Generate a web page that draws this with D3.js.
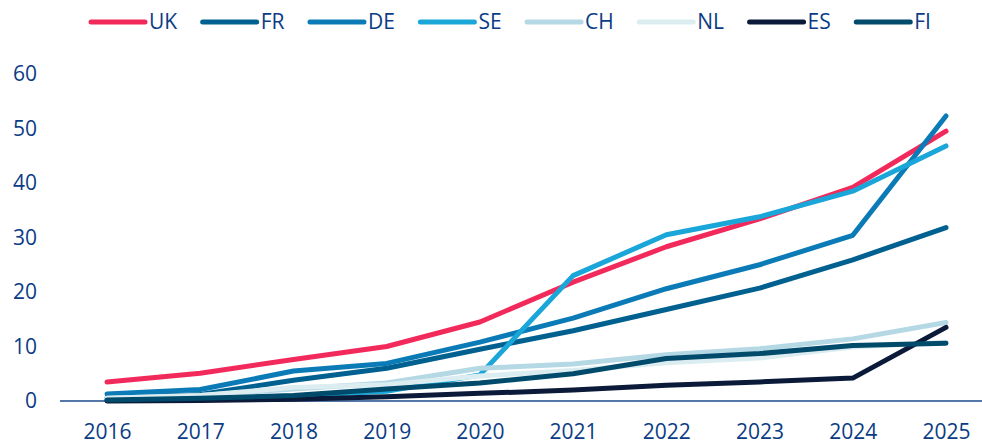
<!DOCTYPE html>
<html>
<head>
<meta charset="utf-8">
<script src="https://cdn.jsdelivr.net/npm/d3@7"></script>
<style>
  body { margin: 0; background: #fff; }
  text { font-family: "Open Sans", "Noto Sans", sans-serif; fill: #0b3c85; }
</style>
</head>
<body>
<div id="chart"></div>
<script>
const years = [2016, 2017, 2018, 2019, 2020, 2021, 2022, 2023, 2024, 2025];
const countries = ['UK', 'FR', 'DE', 'SE', 'CH', 'NL', 'ES', 'FI'];
const colors = ['#f22a5c', '#00608f', '#0a7bb6', '#1aa6d8', '#b5d8e5', '#dcedf1', '#0b1a38', '#004b6c'];
const yTicks = [0, 10, 20, 30, 40, 50, 60];

const uk = [3.5, 5.1, 7.6, 10.0, 14.5, 21.8, 28.3, 33.4, 39.2, 49.5];
const fr = [0.6, 1.2, 3.8, 6.0, 9.5, 12.9, 16.8, 20.7, 25.9, 31.8];
const de = [1.3, 2.1, 5.5, 6.9, 10.8, 15.2, 20.6, 25.0, 30.4, 52.3];
const se = [0.3, 0.5, 0.9, 1.8, 4.8, 23.0, 30.5, 33.8, 38.5, 46.8];
const ch = [0.5, 1.0, 2.2, 3.3, 6.0, 6.8, 8.5, 9.6, 11.4, 14.4];
const nl = [0.5, 1.0, 2.5, 3.0, 4.6, 5.6, 7.0, 7.9, 9.9, 10.8];
const es = [0.0, 0.1, 0.3, 0.8, 1.4, 2.0, 2.9, 3.5, 4.2, 13.5];
const fi = [0.2, 0.5, 1.0, 2.2, 3.3, 5.0, 7.8, 8.7, 10.2, 10.6];

const series = [uk, fr, de, se, ch, nl, es, fi];

const width = 982, height = 445;
const svg = d3.select('#chart').append('svg')
    .attr('width', width)
    .attr('height', height);

const x = d3.scalePoint().domain(years).range([107, 946]);
const y = d3.scaleLinear().domain([0, 60]).range([401, 74]);

// y labels
svg.append('g')
    .selectAll('text')
    .data(yTicks)
    .join('text')
    .attr('x', 37)
    .attr('y', d => y(d))
    .attr('dy', '0.35em')
    .attr('text-anchor', 'end')
    .style('font-size', '21px')
    .text(d => d);

// x axis
const xAxis = svg.append('g')
    .attr('transform', `translate(0,${y(0)})`)
    .call(d3.axisBottom(x).tickSize(0).tickPadding(23).tickFormat(d3.format('d')));
xAxis.select('.domain').remove();
xAxis.selectAll('text').style('font-size', '21px').attr('fill', null);
xAxis.append('line')
    .attr('x1', 60).attr('x2', 982)
    .attr('stroke', '#1b4a8c').attr('stroke-width', 1.5);

const line = d3.line()
    .x((d, i) => x(years[i]))
    .y(d => y(d));

svg.append('g')
    .selectAll('path')
    .data(series)
    .join('path')
    .attr('d', line)
    .attr('fill', 'none')
    .attr('stroke', (d, i) => colors[i])
    .attr('stroke-width', 5)
    .attr('stroke-linecap', 'round')
    .attr('stroke-linejoin', 'round');

// legend
const legend = svg.append('g');
let lx = 91;
countries.forEach((c, i) => {
    const g = legend.append('g');
    g.append('line')
        .attr('x1', lx).attr('x2', lx + 54)
        .attr('y1', 22).attr('y2', 22)
        .attr('stroke', colors[i])
        .attr('stroke-width', 5)
        .attr('stroke-linecap', 'round');
    const t = g.append('text')
        .attr('x', lx + 58)
        .attr('y', 22)
        .attr('dy', '0.35em')
        .style('font-size', '21px')
        .text(c);
    lx += 58 + t.node().getComputedTextLength() + 25.5;
});
</script>
</body>
</html>
